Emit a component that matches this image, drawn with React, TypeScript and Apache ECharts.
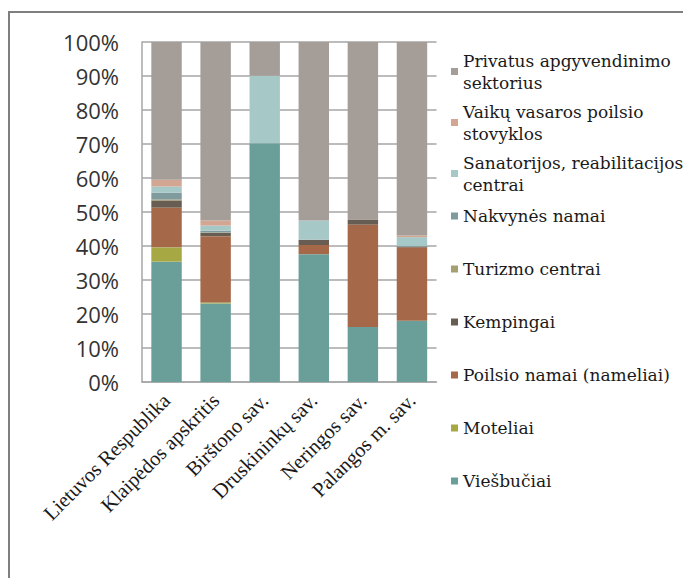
import React, { useEffect, useRef } from "react";
import * as echarts from "echarts";

const categories = [
  "Lietuvos Respublika",
  "Klaipėdos apskritis",
  "Birštono sav.",
  "Druskininkų sav.",
  "Neringos sav.",
  "Palangos m. sav.",
];

const seriesNames = [
  "Viešbučiai",
  "Moteliai",
  "Poilsio namai (nameliai)",
  "Kempingai",
  "Turizmo centrai",
  "Nakvynės namai",
  "Sanatorijos, reabilitacijos centrai",
  "Vaikų vasaros poilsio stovyklos",
  "Privatus apgyvendinimo sektorius",
];

const viesbuciai = [35.4, 23.1, 70.2, 37.6, 16.2, 18.0];
const moteliai = [4.2, 0.3, 0, 0, 0, 0];
const poilsioNamai = [11.7, 19.5, 0, 2.7, 30.1, 21.6];
const kempingai = [2.1, 1.0, 0, 1.5, 1.5, 0.2];
const turizmoCentrai = [0.3, 0.1, 0, 0, 0, 0];
const nakvynesNamai = [2.0, 0.5, 0, 0.1, 0, 0.2];
const sanatorijos = [1.8, 1.5, 19.9, 5.6, 0, 2.6];
const vaikuStovyklos = [2.0, 1.5, 0, 0, 0, 0.5];
const privatus = [40.5, 52.5, 9.9, 52.5, 52.2, 56.9];

const seriesValues = [
  viesbuciai,
  moteliai,
  poilsioNamai,
  kempingai,
  turizmoCentrai,
  nakvynesNamai,
  sanatorijos,
  vaikuStovyklos,
  privatus,
];

const colors = [
  "#6a9f99",
  "#a5a843",
  "#a5694a",
  "#685d52",
  "#a69f70",
  "#7f9b9d",
  "#a6c9c7",
  "#d3a593",
  "#a59e98",
];

const legendLines: Record<string, string> = {
  "Privatus apgyvendinimo sektorius": "Privatus apgyvendinimo\nsektorius",
  "Vaikų vasaros poilsio stovyklos": "Vaikų vasaros poilsio\nstovyklos",
  "Sanatorijos, reabilitacijos centrai": "Sanatorijos, reabilitacijos\ncentrai",
};

const yTicks = [0, 10, 20, 30, 40, 50, 60, 70, 80, 90, 100];

export default function App() {
  const ref = useRef<HTMLDivElement>(null);

  useEffect(() => {
    if (!ref.current) return;
    const chart = echarts.init(ref.current, null, { renderer: "svg" });

    const legendOrder = [...seriesNames].reverse();
    const twoLineTops = [49.5, 100.5, 151.5];
    const legends = legendOrder.map((name, i) => {
      const top = i < 3 ? twoLineTops[i] : 205 + 53 * (i - 3);
      return {
        show: true,
        left: 451,
        top,
        orient: "vertical",
        padding: 0,
        itemWidth: 7,
        itemHeight: 7,
        icon: "rect",
        selectedMode: false,
        data: [name],
        formatter: (n: string) => legendLines[n] || n,
        textStyle: {
          fontFamily: "DejaVu Serif",
          fontSize: 17,
          color: "#1a1a1a",
          lineHeight: 22,
        },
      };
    });

    chart.setOption({
      animation: false,
      color: colors,
      backgroundColor: "#ffffff",
      grid: {
        left: 142,
        right: 246.5,
        top: 42,
        bottom: 196,
        containLabel: false,
      },
      legend: legends,
      graphic: [
        {
          type: "rect",
          shape: { x: 9, y: 12, width: 720, height: 620 },
          style: { fill: "none", stroke: "#7f7f7f", lineWidth: 2 },
          silent: true,
        },
      ],
      xAxis: {
        type: "category",
        data: categories,
        axisTick: { show: false },
        axisLine: { lineStyle: { color: "#a6a6a6", width: 1.5 } },
        axisLabel: {
          rotate: 45,
          interval: 0,
          margin: 15,
          fontFamily: "Liberation Serif",
          fontSize: 20.5,
          color: "#1a1a1a",
        },
      },
      yAxis: {
        type: "value",
        min: 0,
        max: 100,
        interval: 10,
        axisLine: { show: true, lineStyle: { color: "#a6a6a6", width: 1.5 } },
        axisTick: { show: false },
        splitLine: { lineStyle: { color: "#a6a6a6", width: 1.5 } },
        axisLabel: {
          margin: 23,
          fontFamily: "Open Sans",
          fontSize: 22,
          color: "#333333",
          formatter: (v: number) => (yTicks.includes(v) ? v + "%" : ""),
        },
      },
      series: seriesNames.map((name, i) => ({
        name,
        type: "bar",
        stack: "total",
        barWidth: "62%",
        data: seriesValues[i],
        itemStyle: { color: colors[i] },
      })),
    });

    return () => chart.dispose();
  }, []);

  return (
    <div
      ref={ref}
      style={{ position: "fixed", left: 0, top: 0, width: 683, height: 578 }}
    />
  );
}
